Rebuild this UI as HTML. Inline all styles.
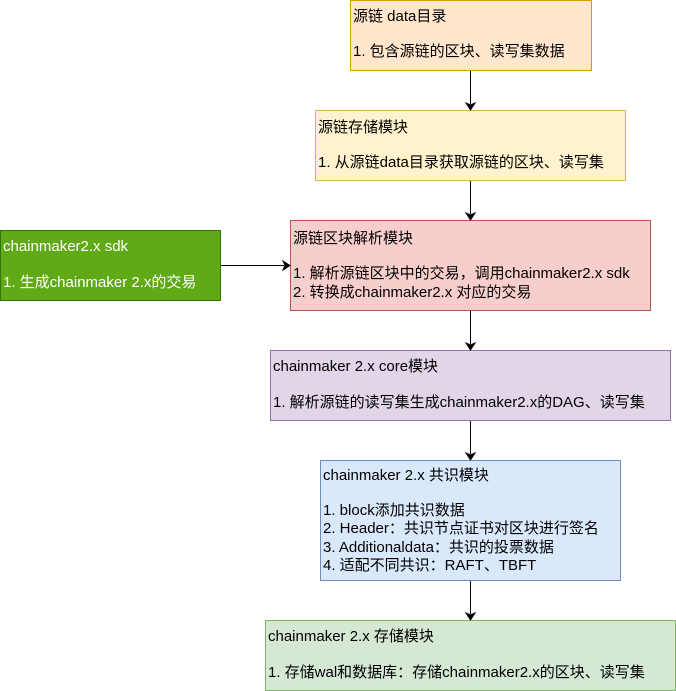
<!DOCTYPE html>
<html><head><meta charset="utf-8"><style>
body{margin:0;width:676px;height:691px;background:#fff;position:relative;font-family:"Liberation Sans","Noto Sans CJK SC",sans-serif;font-size:15px;color:#000;overflow:hidden}
.b{position:absolute;box-sizing:border-box;border:1px solid}
.t{position:absolute;white-space:nowrap;line-height:18px}
svg{position:absolute;left:0;top:0}
</style></head><body>
<div class="b" style="left:350px;top:0;width:242px;height:71px;background:#ffe6cc;border-color:#d79b00"></div>
<div class="t" style="left:353px;top:8px">源链 data目录</div>
<div class="t" style="left:353px;top:43px">1. 包含源链的区块、读写集数据</div>

<div class="b" style="left:315px;top:110px;width:311px;height:71px;background:#fff2cc;border-color:#d6b656"></div>
<div class="t" style="left:318px;top:119px">源链存储模块</div>
<div class="t" style="left:318px;top:154px">1. 从源链data目录获取源链的区块、读写集</div>

<div class="b" style="left:290px;top:220px;width:361px;height:91px;background:#f8cecc;border-color:#b85450"></div>
<div class="t" style="left:293px;top:230px">源链区块解析模块</div>
<div class="t" style="left:293px;top:265px">1. 解析源链区块中的交易，调用chainmaker2.x sdk</div>
<div class="t" style="left:293px;top:284px">2. 转换成chainmaker2.x 对应的交易</div>

<div class="b" style="left:0;top:230px;width:221px;height:71px;background:#60a917;border-color:#2d7600"></div>
<div class="t" style="left:3px;top:238px;color:#fff">chainmaker2.x sdk</div>
<div class="t" style="left:3px;top:274px;color:#fff">1. 生成chainmaker 2.x的交易</div>

<div class="b" style="left:270px;top:350px;width:401px;height:71px;background:#e1d5e7;border-color:#9673a6"></div>
<div class="t" style="left:273px;top:358px">chainmaker 2.x core模块</div>
<div class="t" style="left:273px;top:394px">1. 解析源链的读写集生成chainmaker2.x的DAG、读写集</div>

<div class="b" style="left:320px;top:460px;width:301px;height:121px;background:#dae8fc;border-color:#6c8ebf"></div>
<div class="t" style="left:323px;top:467px">chainmaker 2.x 共识模块</div>
<div class="t" style="left:323px;top:502px">1. block添加共识数据</div>
<div class="t" style="left:323px;top:520px">2. Header：共识节点证书对区块进行签名</div>
<div class="t" style="left:323px;top:539px">3. Additionaldata：共识的投票数据</div>
<div class="t" style="left:323px;top:557px">4. 适配不同共识：RAFT、TBFT</div>

<div class="b" style="left:265px;top:620px;width:411px;height:71px;background:#d5e8d4;border-color:#82b366"></div>
<div class="t" style="left:268px;top:628px">chainmaker 2.x 存储模块</div>
<div class="t" style="left:268px;top:664px">1. 存储wal和数据库：存储chainmaker2.x的区块、读写集</div>

<svg width="676" height="691">
<g stroke="#000" stroke-width="1" fill="#000">
<line x1="470.5" y1="71" x2="470.5" y2="104"/><path d="M466 103 L470.5 110 L475 103 L470.5 105Z"/>
<line x1="470.5" y1="181" x2="470.5" y2="214"/><path d="M466 213 L470.5 220 L475 213 L470.5 215Z"/>
<line x1="470.5" y1="311" x2="470.5" y2="344"/><path d="M466 343 L470.5 350 L475 343 L470.5 345Z"/>
<line x1="470.5" y1="421" x2="470.5" y2="454"/><path d="M466 453 L470.5 460 L475 453 L470.5 455Z"/>
<line x1="470.5" y1="581" x2="470.5" y2="614"/><path d="M466 613 L470.5 620 L475 613 L470.5 615Z"/>
<line x1="221" y1="265.5" x2="284" y2="265.5"/><path d="M283 261 L290 265.5 L283 270 L285 265.5Z"/>
</g></svg>
</body></html>
